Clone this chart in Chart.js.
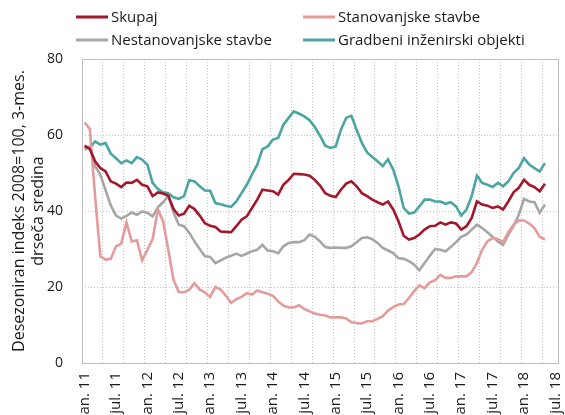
<!DOCTYPE html>
<html>
<head>
<meta charset="utf-8">
<script src="https://cdn.jsdelivr.net/npm/chart.js@4/dist/chart.umd.min.js"></script>
<style>
html,body{margin:0;padding:0;background:#fff;}
#wrap{width:565px;height:415px;position:relative;}
</style>
</head>
<body>
<div id="wrap"><canvas id="c" width="565" height="415"></canvas></div>
<script>
// ---- data ----
const monthNames = ['jan.','feb.','mar.','apr.','maj','jun.','jul.','avg.','sep.','okt.','nov.','dec.'];
const years = ['11','12','13','14','15','16','17','18'];
const categories = [];
years.forEach(y => monthNames.forEach(m => categories.push(m + ' ' + y)));
categories.length = 91; // jan. 11 ... jul. 18

const seriesNames = ['Skupaj','Stanovanjske stavbe','Nestanovanjske stavbe','Gradbeni inženirski objekti'];

const skupaj = [57.2,56.3,53.1,51.3,50.4,47.8,47.2,46.3,47.5,47.4,48.2,46.9,46.5,43.9,44.9,44.6,44.0,40.5,38.8,39.3,
  41.4,40.5,38.8,36.8,36.1,35.8,34.6,34.5,34.4,36.0,37.7,38.6,40.8,43.0,45.6,45.4,45.2,44.3,46.9,48.2,
  49.8,49.7,49.6,49.3,48.2,46.7,44.7,44.0,43.7,45.6,47.2,47.8,46.5,44.7,43.9,43.0,42.3,41.7,42.5,40.4,
  37.3,33.5,32.5,32.9,33.8,35.1,36.0,36.1,37.0,36.4,37.0,36.7,35.1,36.0,38.2,42.5,41.7,41.4,40.8,41.2,
  40.4,42.5,44.9,46.1,48.2,46.9,46.3,45.2,47.2];

const stanovanjske = [63.3,61.6,44.0,28.1,27.2,27.4,30.7,31.4,37.0,32.0,32.3,27.0,29.8,32.6,40.4,37.3,29.8,21.9,18.6,18.6,
  19.3,21.0,19.3,18.6,17.4,20.0,19.3,17.7,15.8,16.8,17.4,18.4,18.0,19.1,18.6,18.2,17.7,16.2,15.1,14.6,
  14.6,15.2,14.2,13.6,13.0,12.7,12.5,12.0,12.0,12.0,11.7,10.7,10.5,10.4,11.0,11.0,11.6,12.3,13.8,14.7,
  15.4,15.5,17.1,18.9,20.4,19.7,21.2,21.8,23.2,22.4,22.4,22.8,22.8,22.8,23.9,26.3,29.8,32.0,32.9,32.6,
  31.8,34.4,36.4,37.5,37.5,36.7,35.5,33.2,32.5];

const nestanovanjske = [56.1,57.0,51.8,49.6,45.5,41.5,38.8,38.0,38.7,39.6,39.0,39.9,39.5,38.6,41.0,42.3,43.9,39.6,36.4,36.0,
  34.3,32.0,30.0,28.1,27.9,26.3,27.0,27.7,28.2,28.8,28.2,28.8,29.4,29.8,31.1,29.6,29.4,28.9,30.7,31.6,
  31.8,31.8,32.3,33.8,33.2,32.0,30.5,30.3,30.4,30.3,30.3,30.7,31.8,32.9,33.1,32.6,31.6,30.3,29.6,28.9,
  27.6,27.4,26.8,25.9,24.4,26.3,28.2,30.0,29.8,29.4,30.5,31.8,33.2,33.8,35.1,36.4,35.5,34.4,33.2,32.0,
  31.1,33.8,36.0,39.0,43.2,42.5,42.3,39.5,41.7];

const gradbeni = [57.0,56.6,58.3,57.5,57.9,55.1,53.9,52.6,53.3,52.6,54.2,53.5,52.2,47.4,45.8,44.9,44.7,43.6,43.2,43.9,
  48.1,47.8,46.5,45.4,45.3,42.1,41.8,41.4,41.1,42.5,44.7,46.9,49.6,52.2,56.3,57.0,58.8,59.2,62.7,64.5,
  66.2,65.6,64.9,63.9,62.1,59.8,57.2,56.6,57.0,61.4,64.5,65.1,61.4,57.9,55.4,54.2,53.1,51.8,53.6,50.9,
  46.5,40.8,39.3,39.6,41.2,43.0,43.0,42.5,42.5,41.9,42.3,41.2,38.8,40.4,43.9,49.3,47.4,46.9,46.3,47.4,
  46.5,47.8,50.0,51.3,53.9,52.2,51.3,50.4,52.6];

const yTicks = [0, 20, 40, 60, 80];
const yTitle = ['Desezoniran indeks 2008=100, 3-mes.', 'drseča sredina'];

// ---- styles ----
const colors = ['#a3172b', '#e39b9b', '#a6a6a6', '#4ba5a1'];
const FONT = "'Open Sans', 'DejaVu Sans', sans-serif";
const gridColor = '#c4c4c4';

const framePlugin = {
  id: 'frame',
  beforeDatasetsDraw(chart) {
    const {ctx, chartArea: a} = chart;
    ctx.save();
    ctx.strokeStyle = '#bdbdbd';
    ctx.lineWidth = 1;
    ctx.strokeRect(Math.round(a.left) + 0.5, Math.round(a.top) + 0.5,
      Math.round(a.right - a.left), Math.round(a.bottom - a.top));
    ctx.restore();
  }
};

const legendPlugin = {
  id: 'customLegend',
  afterDraw(chart) {
    const {ctx} = chart;
    const cols = [76, 303];
    const rows = [17, 40];
    ctx.save();
    ctx.font = "15px " + FONT;
    ctx.textBaseline = 'middle';
    ctx.textAlign = 'left';
    chart.data.datasets.forEach((ds, i) => {
      const x = cols[i % 2], y = rows[Math.floor(i / 2)];
      ctx.strokeStyle = ds.borderColor;
      ctx.lineWidth = 3;
      ctx.beginPath();
      ctx.moveTo(x, y);
      ctx.lineTo(x + 32, y);
      ctx.stroke();
      ctx.fillStyle = '#1a1a1a';
      ctx.fillText(ds.label, x + 35, y + 1);
    });
    ctx.restore();
  }
};

const seriesData = [skupaj, stanovanjske, nestanovanjske, gradbeni];

new Chart(document.getElementById('c'), {
  type: 'line',
  data: {
    labels: categories,
    datasets: seriesNames.map((n, i) => ({
      label: n,
      data: seriesData[i],
      borderColor: colors[i],
      backgroundColor: colors[i],
      borderWidth: 2.6,
      pointRadius: 0,
      tension: 0,
      fill: false
    }))
  },
  options: {
    responsive: false,
    animation: false,
    devicePixelRatio: 1,
    layout: { padding: { top: 59, right: 7, left: 0, bottom: 0 } },
    plugins: { legend: { display: false }, tooltip: { enabled: false } },
    scales: {
      x: {
        type: 'category',
        offset: true,
        grid: {
          offset: true,
          drawTicks: false,
          color: (c) => (c.index !== undefined && c.index % 4 === 0) ? gridColor : 'rgba(0,0,0,0)',
          lineWidth: 1
        },
        border: { display: false, dash: [1, 2] },
        ticks: {
          autoSkip: false,
          minRotation: 90,
          maxRotation: 90,
          padding: 9,
          color: '#1a1a1a',
          font: { family: FONT, size: 15 },
          callback: (v, i) => (i % 6 === 0 ? categories[i] : '')
        },
        afterFit: (s) => { s.height = 52; s.paddingLeft = 0; s.paddingRight = 0; }
      },
      y: {
        min: 0,
        max: 80,
        afterBuildTicks: (s) => { s.ticks = yTicks.map(v => ({ value: v })); },
        grid: { drawTicks: false, color: gridColor, lineWidth: 1 },
        border: { display: false, dash: [1, 2] },
        ticks: {
          padding: 19,
          color: '#1a1a1a',
          font: { family: FONT, size: 14 }
        },
        title: {
          display: true,
          text: yTitle,
          color: '#1a1a1a',
          font: { family: FONT, size: 16 },
          padding: { top: 10, bottom: 0 }
        },
        afterFit: (s) => { s.width = 82; s.paddingTop = 0; s.paddingBottom = 0; }
      }
    }
  },
  plugins: [framePlugin, legendPlugin]
});
</script>
</body>
</html>
